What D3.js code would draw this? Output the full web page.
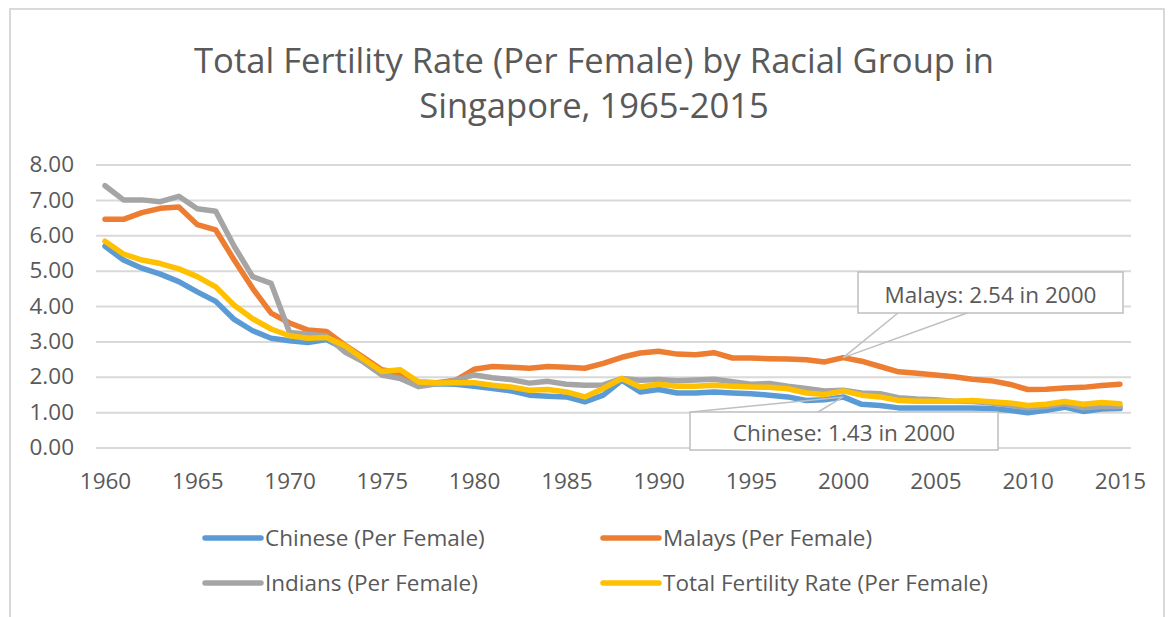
<!DOCTYPE html>
<html><head><meta charset="utf-8">
<script src="https://cdn.jsdelivr.net/npm/d3@7"></script>
<style>
html,body{margin:0;padding:0;background:#fff;}
svg{display:block;font-family:"Open Sans",sans-serif;}
</style></head><body>
<svg id="chart" width="1175" height="617"></svg>
<script>
// ---------- data ----------
const years = [1960,1961,1962,1963,1964,1965,1966,1967,1968,1969,
               1970,1971,1972,1973,1974,1975,1976,1977,1978,1979,
               1980,1981,1982,1983,1984,1985,1986,1987,1988,1989,
               1990,1991,1992,1993,1994,1995,1996,1997,1998,1999,
               2000,2001,2002,2003,2004,2005,2006,2007,2008,2009,
               2010,2011,2012,2013,2014,2015];
const chinese = [5.69,5.30,5.07,4.90,4.69,4.40,4.13,3.62,3.30,3.09,
                 3.02,2.97,3.05,2.78,2.45,2.10,2.05,1.78,1.80,1.79,
                 1.73,1.67,1.60,1.48,1.45,1.43,1.29,1.48,1.90,1.57,
                 1.64,1.54,1.54,1.57,1.54,1.52,1.48,1.43,1.33,1.35,
                 1.43,1.22,1.19,1.12,1.12,1.12,1.12,1.12,1.10,1.05,
                 0.98,1.05,1.14,1.02,1.09,1.10];
const malays = [6.45,6.45,6.64,6.76,6.80,6.30,6.15,5.30,4.50,3.80,
                3.52,3.32,3.28,2.90,2.55,2.20,2.10,1.85,1.83,1.90,
                2.21,2.29,2.27,2.24,2.29,2.27,2.24,2.38,2.55,2.67,
                2.72,2.64,2.62,2.68,2.53,2.53,2.51,2.50,2.48,2.42,
                2.54,2.44,2.29,2.14,2.10,2.05,2.00,1.93,1.89,1.79,
                1.64,1.65,1.68,1.70,1.75,1.79];
const indians = [7.40,7.00,7.00,6.95,7.10,6.75,6.68,5.69,4.83,4.64,
                 3.25,3.20,3.15,2.70,2.42,2.05,1.95,1.72,1.80,1.90,
                 2.05,1.97,1.92,1.82,1.87,1.79,1.76,1.77,1.95,1.90,
                 1.92,1.89,1.91,1.93,1.86,1.79,1.81,1.73,1.67,1.60,
                 1.62,1.54,1.52,1.41,1.37,1.35,1.31,1.30,1.26,1.20,
                 1.12,1.16,1.24,1.12,1.16,1.16];
const total = [5.83,5.47,5.30,5.20,5.05,4.83,4.54,4.02,3.64,3.35,
               3.16,3.09,3.11,2.88,2.50,2.15,2.20,1.85,1.82,1.83,
               1.83,1.76,1.71,1.62,1.64,1.57,1.43,1.67,1.95,1.71,
               1.79,1.73,1.73,1.76,1.73,1.71,1.70,1.66,1.54,1.50,
               1.60,1.48,1.43,1.33,1.31,1.31,1.31,1.33,1.29,1.26,
               1.19,1.22,1.30,1.22,1.27,1.24];
const yTicks = [0,1,2,3,4,5,6,7,8];
const xTicks = [1960,1965,1970,1975,1980,1985,1990,1995,2000,2005,2010,2015];
const seriesNames = ["Chinese (Per Female)","Malays (Per Female)","Indians (Per Female)","Total Fertility Rate (Per Female)"];
const seriesColors = ["#5B9BD5","#ED7D31","#A5A5A5","#FFC000"];
const titleLines = ["Total Fertility Rate (Per Female) by Racial Group in","Singapore, 1965-2015"];
const calloutLabels = ["Malays: 2.54 in 2000","Chinese: 1.43 in 2000"];
const calloutYears = [2000,2000];
const calloutValues = [2.54,1.43];

// ---------- drawing ----------
const svg = d3.select("#chart");
const textColor = "#595959";
const gridColor = "#d9d9d9";

// outer frame
svg.append("rect").attr("x",10).attr("y",9).attr("width",1154).attr("height",640)
  .attr("fill","none").attr("stroke",gridColor).attr("stroke-width",2);

const x = d3.scaleLinear().domain([1960,2015]).range([105,1120]);
const y = d3.scaleLinear().domain([0,8]).range([447.5,164.5]);
const gridLeft = 96, gridRight = 1131;

// title
svg.append("g").selectAll("text").data(titleLines).join("text")
  .attr("x",594).attr("y",(d,i)=>73+i*45)
  .attr("text-anchor","middle").attr("fill",textColor)
  .attr("font-size",34.6).attr("font-weight",400).text(d=>d);

// y axis with gridlines
const yAxis = d3.axisLeft(y).tickValues(yTicks).tickFormat(d3.format(".2f"))
  .tickSize(-(gridRight-gridLeft)).tickPadding(22);
const gy = svg.append("g").attr("transform",`translate(${gridLeft},0)`).call(yAxis);
gy.select(".domain").remove();
gy.selectAll(".tick line").attr("stroke",gridColor).attr("stroke-width",2);
gy.selectAll(".tick text").attr("fill",textColor).attr("font-size",22.5)
  .attr("font-family","Open Sans, sans-serif");

// x axis labels
const xAxis = d3.axisBottom(x).tickValues(xTicks).tickFormat(d3.format("d"))
  .tickSize(0).tickPadding(26);
const gx = svg.append("g").attr("transform",`translate(0,${y(0)})`).call(xAxis);
gx.select(".domain").remove();
gx.selectAll(".tick text").attr("fill",textColor).attr("font-size",22.5)
  .attr("font-family","Open Sans, sans-serif");

// lines
const allSeries = [chinese, malays, indians, total];
const line = d3.line().x((d,i)=>x(years[i])).y(d=>y(d));
svg.append("g").selectAll("path").data(allSeries).join("path")
  .attr("d",d=>line(d)).attr("fill","none")
  .attr("stroke",(d,i)=>seriesColors[i]).attr("stroke-width",5.5)
  .attr("stroke-linejoin","round").attr("stroke-linecap","round");

// callouts
const boxes = [
  {x0:858, x1:1123, y0:272, y1:313, b0:898, b1:967, edge:"bottom", ty:303},
  {x0:690, x1:998, y0:412, y1:450, b0:691, b1:818, edge:"top", ty:441}
];
const cg = svg.append("g");
boxes.forEach((b,i)=>{
  const px = x(calloutYears[i]), py = y(calloutValues[i]);
  const ey = b.edge==="bottom" ? b.y1 : b.y0;
  cg.append("rect").attr("x",b.x0).attr("y",b.y0).attr("width",b.x1-b.x0).attr("height",b.y1-b.y0)
    .attr("fill","#fff").attr("stroke","#bfbfbf").attr("stroke-width",1.5);
  cg.append("path").attr("d",`M${b.b0},${ey}L${px},${py}L${b.b1},${ey}`)
    .attr("fill","none").attr("stroke","#bfbfbf").attr("stroke-width",1.5);
  cg.append("text").attr("x",(b.x0+b.x1)/2).attr("y",b.ty).attr("text-anchor","middle")
    .attr("fill",textColor).attr("font-size",22.5).text(calloutLabels[i]);
});

// legend
const legendPos = [[205,538],[603,538],[205,583],[603,583]];
const lg = svg.append("g");
seriesNames.forEach((name,i)=>{
  const [lx,ly] = legendPos[i];
  lg.append("line").attr("x1",lx).attr("x2",lx+56).attr("y1",ly).attr("y2",ly)
    .attr("stroke",seriesColors[i]).attr("stroke-width",5.5).attr("stroke-linecap","round");
  lg.append("text").attr("x",lx+60).attr("y",ly+8).attr("fill",textColor)
    .attr("font-size",22.5).text(name);
});
</script>
</body></html>
